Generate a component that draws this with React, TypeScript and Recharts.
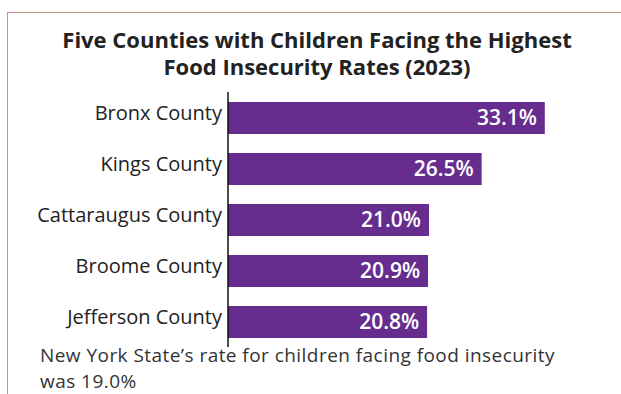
import React from "react";
import { BarChart, Bar, XAxis, YAxis, LabelList } from "recharts";

// counties and child food insecurity rates (%)
const counties = ["Bronx County", "Kings County", "Cattaraugus County", "Broome County", "Jefferson County"];
const rates = [33.1, 26.5, 21.0, 20.9, 20.8];

const data = counties.map((name, i) => ({ name, rate: rates[i] }));

const FONT = "'Open Sans', 'Noto Sans', sans-serif";

const App: React.FC = () => {
  return (
    <div
      style={{
        position: "absolute",
        left: 0,
        top: 0,
        width: 621,
        height: 394,
        overflow: "hidden",
        background: "#fff",
        fontFamily: FONT,
      }}
    >
      {/* frame lines */}
      <div
        style={{
          position: "absolute",
          left: 7,
          top: 12,
          width: 640,
          height: 420,
          borderTop: "1.5px solid #c9917d",
          borderLeft: "1.5px solid #c9917d",
        }}
      />
      <div
        style={{
          position: "absolute",
          left: 0,
          top: 26,
          width: 634,
          textAlign: "center",
          fontSize: 22,
          fontWeight: 700,
          lineHeight: "27px",
          color: "#222",
        }}
      >
        Five Counties with Children Facing the Highest
        <br />
        Food Insecurity Rates (2023)
      </div>

      <div style={{ position: "absolute", left: 0, top: 0 }}>
        <BarChart
          width={621}
          height={394}
          data={data}
          layout="vertical"
          margin={{ top: 92, right: 58, bottom: 47, left: 0 }}
          barCategoryGap={19}
        >
          <XAxis type="number" domain={[0, 35]} hide />
          <YAxis
            type="category"
            dataKey="name"
            width={228}
            axisLine={{ stroke: "#111", strokeWidth: 1.5 }}
            tickLine={false}
            tickMargin={0}
            tick={{ fontSize: 20, fill: "#222", fontFamily: FONT, dy: -5 }}
          />
          <Bar dataKey="rate" fill="#662d8f" barSize={32} isAnimationActive={false}>
            <LabelList
              dataKey="rate"
              position="insideRight"
              offset={8}
              fill="#fff"
              fontSize={21}
              fontWeight={600}
              fontFamily={FONT}
              formatter={(v: any) => `${Number(v).toFixed(1)}%`}
            />
          </Bar>
        </BarChart>
      </div>

      <div
        style={{
          position: "absolute",
          left: 40,
          top: 342,
          fontSize: 19,
          letterSpacing: "0.45px",
          lineHeight: "26px",
          color: "#333",
        }}
      >
        New York State’s rate for children facing food insecurity
        <br />
        was 19.0%
      </div>
    </div>
  );
};

export default App;
